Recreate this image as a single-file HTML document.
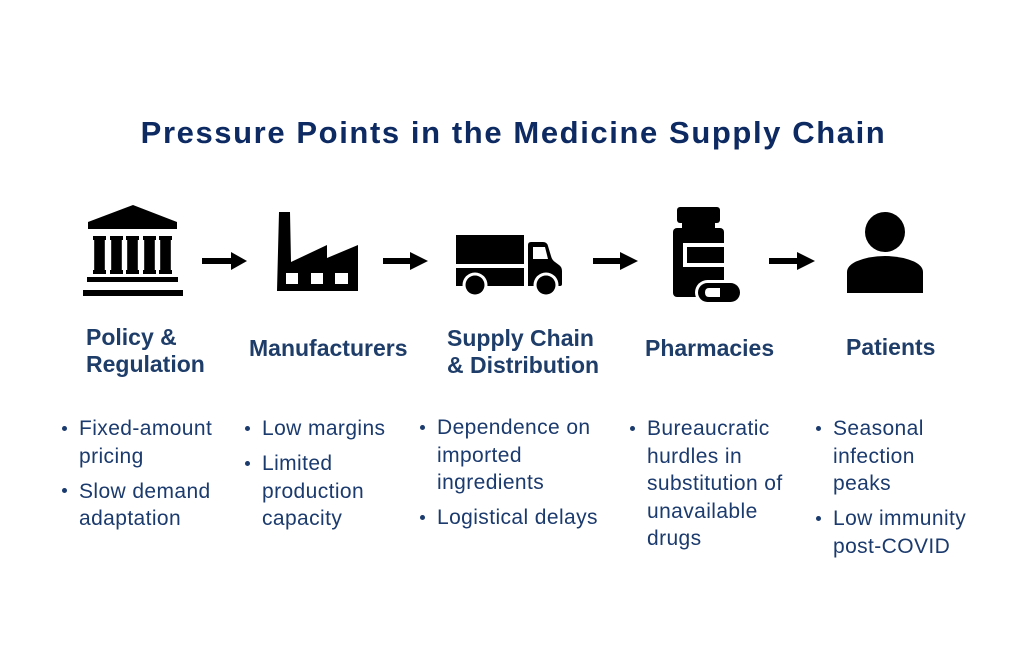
<!DOCTYPE html>
<html>
<head>
<meta charset="utf-8">
<style>
  html, body { margin: 0; padding: 0; }
  body { width: 1024px; height: 672px; background: #ffffff; position: relative; overflow: hidden; font-family: "Liberation Sans", Arial, sans-serif; }
  .title { position: absolute; left: 0; width: 1027px; top: 117px; text-align: center; font-size: 31px; line-height: 31px; font-weight: bold; color: #0d2a62; letter-spacing: 1.6px; white-space: nowrap; }
  .h { position: absolute; font-size: 23px; line-height: 27px; font-weight: bold; color: #1f3d69; white-space: nowrap; }
  .col { position: absolute; font-size: 21px; line-height: 27.5px; color: #1b3a6d; letter-spacing: 0.4px; white-space: nowrap; }
  .it { position: relative; margin-bottom: 7.5px; }
  .it::before { content: ""; position: absolute; left: -17px; top: 10.5px; width: 5px; height: 5px; border-radius: 50%; background: #1b3a6d; }
  svg { position: absolute; left: 0; top: 0; }
</style>
</head>
<body>
<svg width="1024" height="672" viewBox="0 0 1024 672">
  <!-- Bank -->
  <g fill="#000">
    <polygon points="133,205 177,222 177,229 88,229 88,222"/>
    <rect x="88" y="222" width="89" height="6"/>
    <!-- columns -->
    <rect x="93" y="236" width="13" height="4"/><rect x="94.2" y="238" width="10.6" height="33"/><rect x="93" y="270" width="13" height="4"/>
    <rect x="110" y="236" width="13" height="4"/><rect x="111.2" y="238" width="10.6" height="33"/><rect x="110" y="270" width="13" height="4"/>
    <rect x="126" y="236" width="13" height="4"/><rect x="127.2" y="238" width="10.6" height="33"/><rect x="126" y="270" width="13" height="4"/>
    <rect x="143" y="236" width="13" height="4"/><rect x="144.2" y="238" width="10.6" height="33"/><rect x="143" y="270" width="13" height="4"/>
    <rect x="159" y="236" width="13" height="4"/><rect x="160.2" y="238" width="10.6" height="33"/><rect x="159" y="270" width="13" height="4"/>
    <rect x="87" y="277" width="91" height="5"/>
    <rect x="83" y="290" width="100" height="6"/>
  </g>
  <!-- Arrow 1 -->
  <rect x="202" y="258" width="31" height="6" fill="#000"/>
  <polygon points="231,252 247,261 231,270" fill="#000"/>

  <!-- Factory -->
  <path d="M277,291 L279,212 L290,212 L291,262 L327,245 L327,258 L358,245 L358,291 Z" fill="#000"/>
  <rect x="286" y="273" width="12" height="11" fill="#fff"/>
  <rect x="311" y="273" width="12" height="11" fill="#fff"/>
  <rect x="335" y="273" width="13" height="11" fill="#fff"/>
  <!-- Arrow 2 -->
  <rect x="383" y="258" width="29" height="6" fill="#000"/>
  <polygon points="410,252 428,261 410,270" fill="#000"/>

  <!-- Truck -->
  <rect x="456" y="235" width="68" height="29" fill="#000"/>
  <rect x="456" y="268" width="68" height="18" fill="#000"/>
  <path d="M528,286 V245 Q528,242 531,242 H543 Q547,242 548,246 L551,256 Q552,260 555,262 L559,265 Q562,267 562,271 V284 Q562,286 560,286 Z" fill="#000"/>
  <polygon points="533,247 545,247 548,259 533,259" fill="#fff"/>
  <circle cx="475" cy="285" r="12.5" fill="#fff"/>
  <circle cx="475" cy="285" r="9.5" fill="#000"/>
  <circle cx="546" cy="285" r="12.5" fill="#fff"/>
  <circle cx="546" cy="285" r="9.5" fill="#000"/>
  <!-- Arrow 3 -->
  <rect x="593" y="258" width="29" height="6" fill="#000"/>
  <polygon points="620,252 638,261 620,270" fill="#000"/>

  <!-- Pill bottle -->
  <rect x="677" y="207" width="43" height="16" rx="3" fill="#000"/>
  <rect x="682" y="221" width="33" height="9" fill="#000"/>
  <rect x="673" y="228" width="51" height="69" rx="4" fill="#000"/>
  <rect x="683" y="243" width="41" height="24" fill="#fff"/>
  <rect x="687" y="247" width="37" height="16" fill="#000"/>
  <rect x="695" y="280" width="48" height="25" rx="12.5" fill="#fff"/>
  <rect x="698" y="283" width="42" height="19" rx="9.5" fill="#000"/>
  <path d="M709,288 H720 V297 H709 Q705,297 705,292.5 Q705,288 709,288 Z" fill="#fff"/>
  <!-- Arrow 4 -->
  <rect x="769" y="258" width="30" height="6" fill="#000"/>
  <polygon points="797,252 815,261 797,270" fill="#000"/>

  <!-- Person -->
  <circle cx="885" cy="232" r="20" fill="#000"/>
  <path d="M847,293 L847,272 Q847,266 856,261.5 Q869,256 885,256 Q901,256 914,261.5 Q923,266 923,272 L923,293 Z" fill="#000"/>
</svg>

<div class="title">Pressure Points in the Medicine Supply Chain</div>

<div class="h" style="left:86px; top:324px;">Policy &amp;<br>Regulation</div>
<div class="h" style="left:249px; top:335px;">Manufacturers</div>
<div class="h" style="left:447px; top:325px;">Supply Chain<br>&amp; Distribution</div>
<div class="h" style="left:645px; top:335px;">Pharmacies</div>
<div class="h" style="left:846px; top:334px;">Patients</div>

<div class="col" style="left:79px; top:415px;">
  <div class="it">Fixed-amount<br>pricing</div>
  <div class="it">Slow demand<br>adaptation</div>
</div>
<div class="col" style="left:262px; top:415px;">
  <div class="it">Low margins</div>
  <div class="it">Limited<br>production<br>capacity</div>
</div>
<div class="col" style="left:437px; top:414px;">
  <div class="it">Dependence on<br>imported<br>ingredients</div>
  <div class="it">Logistical delays</div>
</div>
<div class="col" style="left:647px; top:415px;">
  <div class="it">Bureaucratic<br>hurdles in<br>substitution of<br>unavailable<br>drugs</div>
</div>
<div class="col" style="left:833px; top:415px;">
  <div class="it">Seasonal<br>infection<br>peaks</div>
  <div class="it">Low immunity<br>post-COVID</div>
</div>
</body>
</html>
